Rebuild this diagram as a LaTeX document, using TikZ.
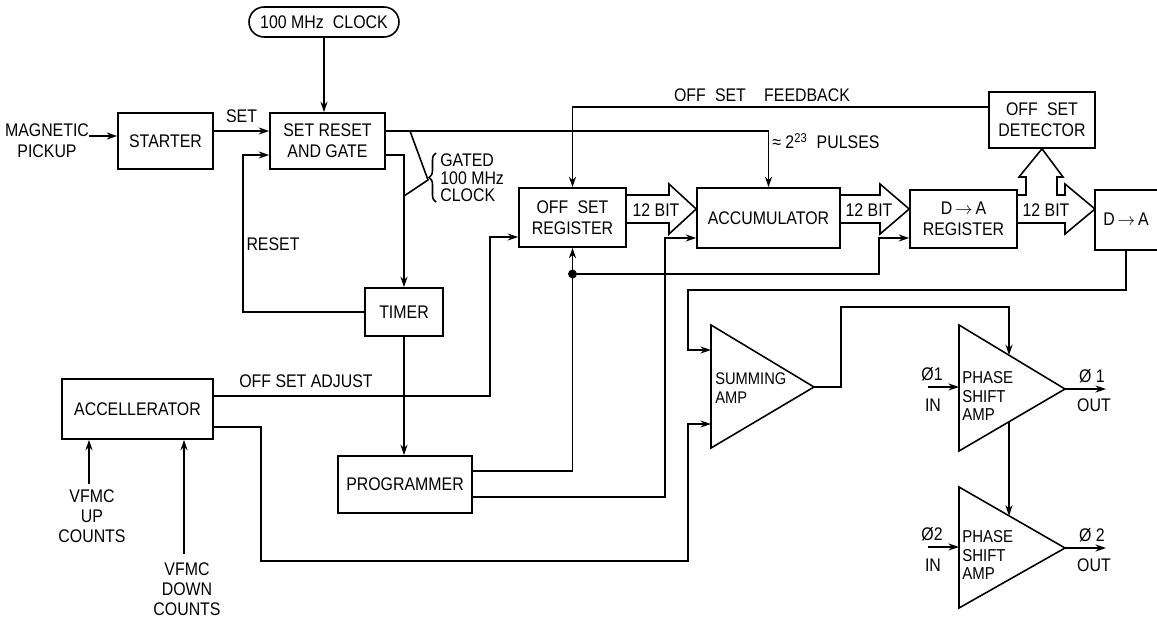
\documentclass[tikz,border=0pt]{standalone}
\usepackage{fontspec}
\setmainfont[FakeStretch=0.87]{Liberation Sans}
\usetikzlibrary{arrows.meta,positioning,calc,decorations.pathreplacing}
\tikzset{
  blk/.style={draw,line width=0.9pt,align=center,inner sep=0pt},
  lbl/.style={align=center,inner sep=1pt},
  wire/.style={line width=0.9pt},
  sig/.style={wire,-{Stealth[length=6pt,width=4pt]}},
  dot/.style={circle,fill,inner sep=1.8pt},
}

\begin{document}
\begin{tikzpicture}[x=0.02cm,y=-0.02cm,font=\fontsize{10.4}{12}\selectfont]
\useasboundingbox (0,0) rectangle (1157,619);
% blocks
\node[blk,rounded corners=0.3cm,minimum width=3cm,minimum height=0.6cm] (clock) at (324,22) {100 MHz\enspace CLOCK};
\node[blk,minimum width=1.9cm,minimum height=1.12cm] (starter) at (165.5,141) {STARTER};
\node[blk,minimum width=2.3cm,minimum height=1.12cm] (srg) at (327.5,141) {SET RESET\\AND GATE};
\node[blk,minimum width=1.56cm,minimum height=0.96cm] (timer) at (404,312) {TIMER};
\node[blk,minimum width=2.68cm,minimum height=1.14cm] (prog) at (405,484.5) {PROGRAMMER};
\node[blk,minimum width=3.02cm,minimum height=1.2cm] (accel) at (137.5,409) {ACCELLERATOR};
\node[blk,minimum width=2.14cm,minimum height=1.18cm] (offreg) at (572.5,217.5) {OFF\enspace SET\\REGISTER};
\node[blk,minimum width=2.86cm,minimum height=1.2cm] (accum) at (768.5,218) {ACCUMULATOR};
\node[blk,minimum width=2.14cm,minimum height=1.16cm] (dareg) at (963.5,219) {D$\,\rightarrow\,$A\\REGISTER};
\node[blk,minimum width=2.12cm,minimum height=1.12cm] (detect) at (1042,120) {OFF\enspace SET\\DETECTOR};
% D-A converter, cut by the right margin
\node[inner sep=0pt] (da) at (1126,219) {D$\,\rightarrow\,$A};
\draw[wire] (1157,190) -| (1095,250) -- (1157,250);
% amplifiers
\coordinate (sumA) at (711,325); \coordinate (sumB) at (711,448); \coordinate (sumT) at (814,387);
\draw[wire] (sumA) -- (sumT) -- (sumB) -- cycle;
\node[anchor=west,align=left,inner sep=0pt,font=\fontsize{9.6}{11}\selectfont] (sumtxt) at (715,388) {SUMMING\\AMP};
\coordinate (p1A) at (959,325); \coordinate (p1B) at (959,451); \coordinate (p1T) at (1065,389);
\draw[wire] (p1A) -- (p1T) -- (p1B) -- cycle;
\node[anchor=west,align=left,inner sep=0pt,font=\fontsize{9.8}{10.5}\selectfont] (p1txt) at (962,396) {PHASE\\SHIFT\\AMP};
\coordinate (p2A) at (959,487); \coordinate (p2B) at (959,608); \coordinate (p2T) at (1065,548);
\draw[wire] (p2A) -- (p2T) -- (p2B) -- cycle;
\node[anchor=west,align=left,inner sep=0pt,font=\fontsize{9.8}{10.5}\selectfont] (p2txt) at (962,555) {PHASE\\SHIFT\\AMP};

% inputs on the left
\node[lbl,inner sep=0pt] (magpick) at (47,141) {MAGNETIC\\PICKUP};
\draw[sig] (magpick.east |- 0,136) -- (starter.west |- 0,136);
\draw[sig] (starter.east |- 0,131) -- node[above=1pt] {SET} (srg.west |- 0,131);
\draw[sig] (clock.south) -- (clock.south |- srg.north);
% reset loop
\draw[sig] (timer.west) -| (243,155) -- (srg.west |- 0,155);
\node[lbl] (reset) at (273,244) {RESET};
\draw[sig] (srg.east |- 0,155) -| (timer.north);
\draw[sig] (timer.south) -- (timer.south |- prog.north);
% gated clock to accumulator
\draw[sig] (srg.east |- 0,131) -| (accum.north);
\draw[wire] (410,131) -- (428,180) -- (404,196);
\draw[wire,decorate,decoration={brace,amplitude=4pt}] (436,202) -- (436,153);
\node[anchor=west,align=left,inner sep=0pt,font=\fontsize{10.4}{10}\selectfont] (gated) at (440,178) {GATED\\100 MHz\\CLOCK};
\node[anchor=west,inner sep=0pt] (pulses) at (772,141) {≈ 2\textsuperscript{23}\enspace PULSES};
% feedback
\draw[sig] (detect.west |- 0,107) -| (offreg.north);
\node[lbl] (fbk) at (762,95) {OFF\enspace SET\enspace\enspace FEEDBACK};

% 12 bit buses
\draw[wire] (offreg.east |- 0,195) -- (669,195) -- (669,184) -- (accum.west |- 0,209)
  -- (669,234) -- (669,223) -- (offreg.east |- 0,223);
\node[inner sep=0pt] (bus1) at (656,210) {12 BIT};
\draw[wire] (accum.east |- 0,195) -- (880,195) -- (880,184) -- (dareg.west |- 0,209)
  -- (880,234) -- (880,223) -- (accum.east |- 0,223);
\node[inner sep=0pt] (bus2) at (869,210) {12 BIT};
\draw[wire] (dareg.east |- 0,195) -- (1026,195) -- (1026,177) -- (1019,177) -- (detect.south)
  -- (1063,177) -- (1057,177) -- (1057,195) -- (1065,195) -- (1065,184) -- (1095,209)
  -- (1065,234) -- (1065,223) -- (dareg.east |- 0,223);
\node[inner sep=0pt] (bus3) at (1046,210) {12 BIT};

% programmer and adjust lines
\node[dot] (jn) at (offreg.south |- 0,274) {};
\draw[sig] (prog.east |- 0,471) -| (offreg.south);
\draw[sig] (jn) -| (879,238) -- (dareg.west |- 0,238);
\draw[sig] (prog.east |- 0,497) -| (665,238) -- (accum.west |- 0,238);
\draw[sig] (accel.east |- 0,396) -| (490,237) -- (offreg.west |- 0,237);
\node[lbl] (adjust) at (306,381) {OFF SET ADJUST};

% counts into accellerator
\node[lbl,inner sep=0pt,font=\fontsize{10.4}{11.3}\selectfont] (upc) at (92,516) {VFMC\\UP\\COUNTS};
\draw[sig] ([yshift=3pt]upc.north -| 89,0) -- (89,0 |- accel.south);
\node[lbl,inner sep=0pt,font=\fontsize{10.4}{11.3}\selectfont] (dnc) at (187,589) {VFMC\\DOWN\\COUNTS};
\draw[sig] ([yshift=5pt]dnc.north -| 184,0) -- (184,0 |- accel.south);

% summing amplifier inputs and output
\draw[sig] (accel.east |- 0,427) -| (261,561) -| (688,424) -- (sumB |- 0,424);
\draw[sig] (da |- 0,250) -- ++(0,40) -| (688,350) -- (sumA |- 0,350);
\draw[sig] (sumT) -- (841,387) |- (1009,307) -- ($(p1A)!{50/106}!(p1T)$);
\draw[sig] ($(p1B)!{50/106}!(p1T)$) -- ($(p2A)!{50/106}!(p2T)$);

% phase shift amp inputs and outputs
\draw[sig] (928,387) -- (p1A |- 0,387);
\node[inner sep=0pt] (ph1in) at (932,374) {Ø1};
\node[inner sep=0pt] (in1) at (933,405) {IN};
\draw[sig] (p1T) -- (1106,389);
\node[inner sep=0pt] (ph1out) at (1092,376) {Ø 1};
\node[inner sep=0pt] (out1) at (1094,405) {OUT};
\draw[sig] (928,547) -- (p2A |- 0,547);
\node[inner sep=0pt] (ph2in) at (932,534) {Ø2};
\node[inner sep=0pt] (in2) at (933,565) {IN};
\draw[sig] (p2T) -- (1106,548);
\node[inner sep=0pt] (ph2out) at (1092,535) {Ø 2};
\node[inner sep=0pt] (out2) at (1094,565) {OUT};
\end{tikzpicture}
\end{document}
